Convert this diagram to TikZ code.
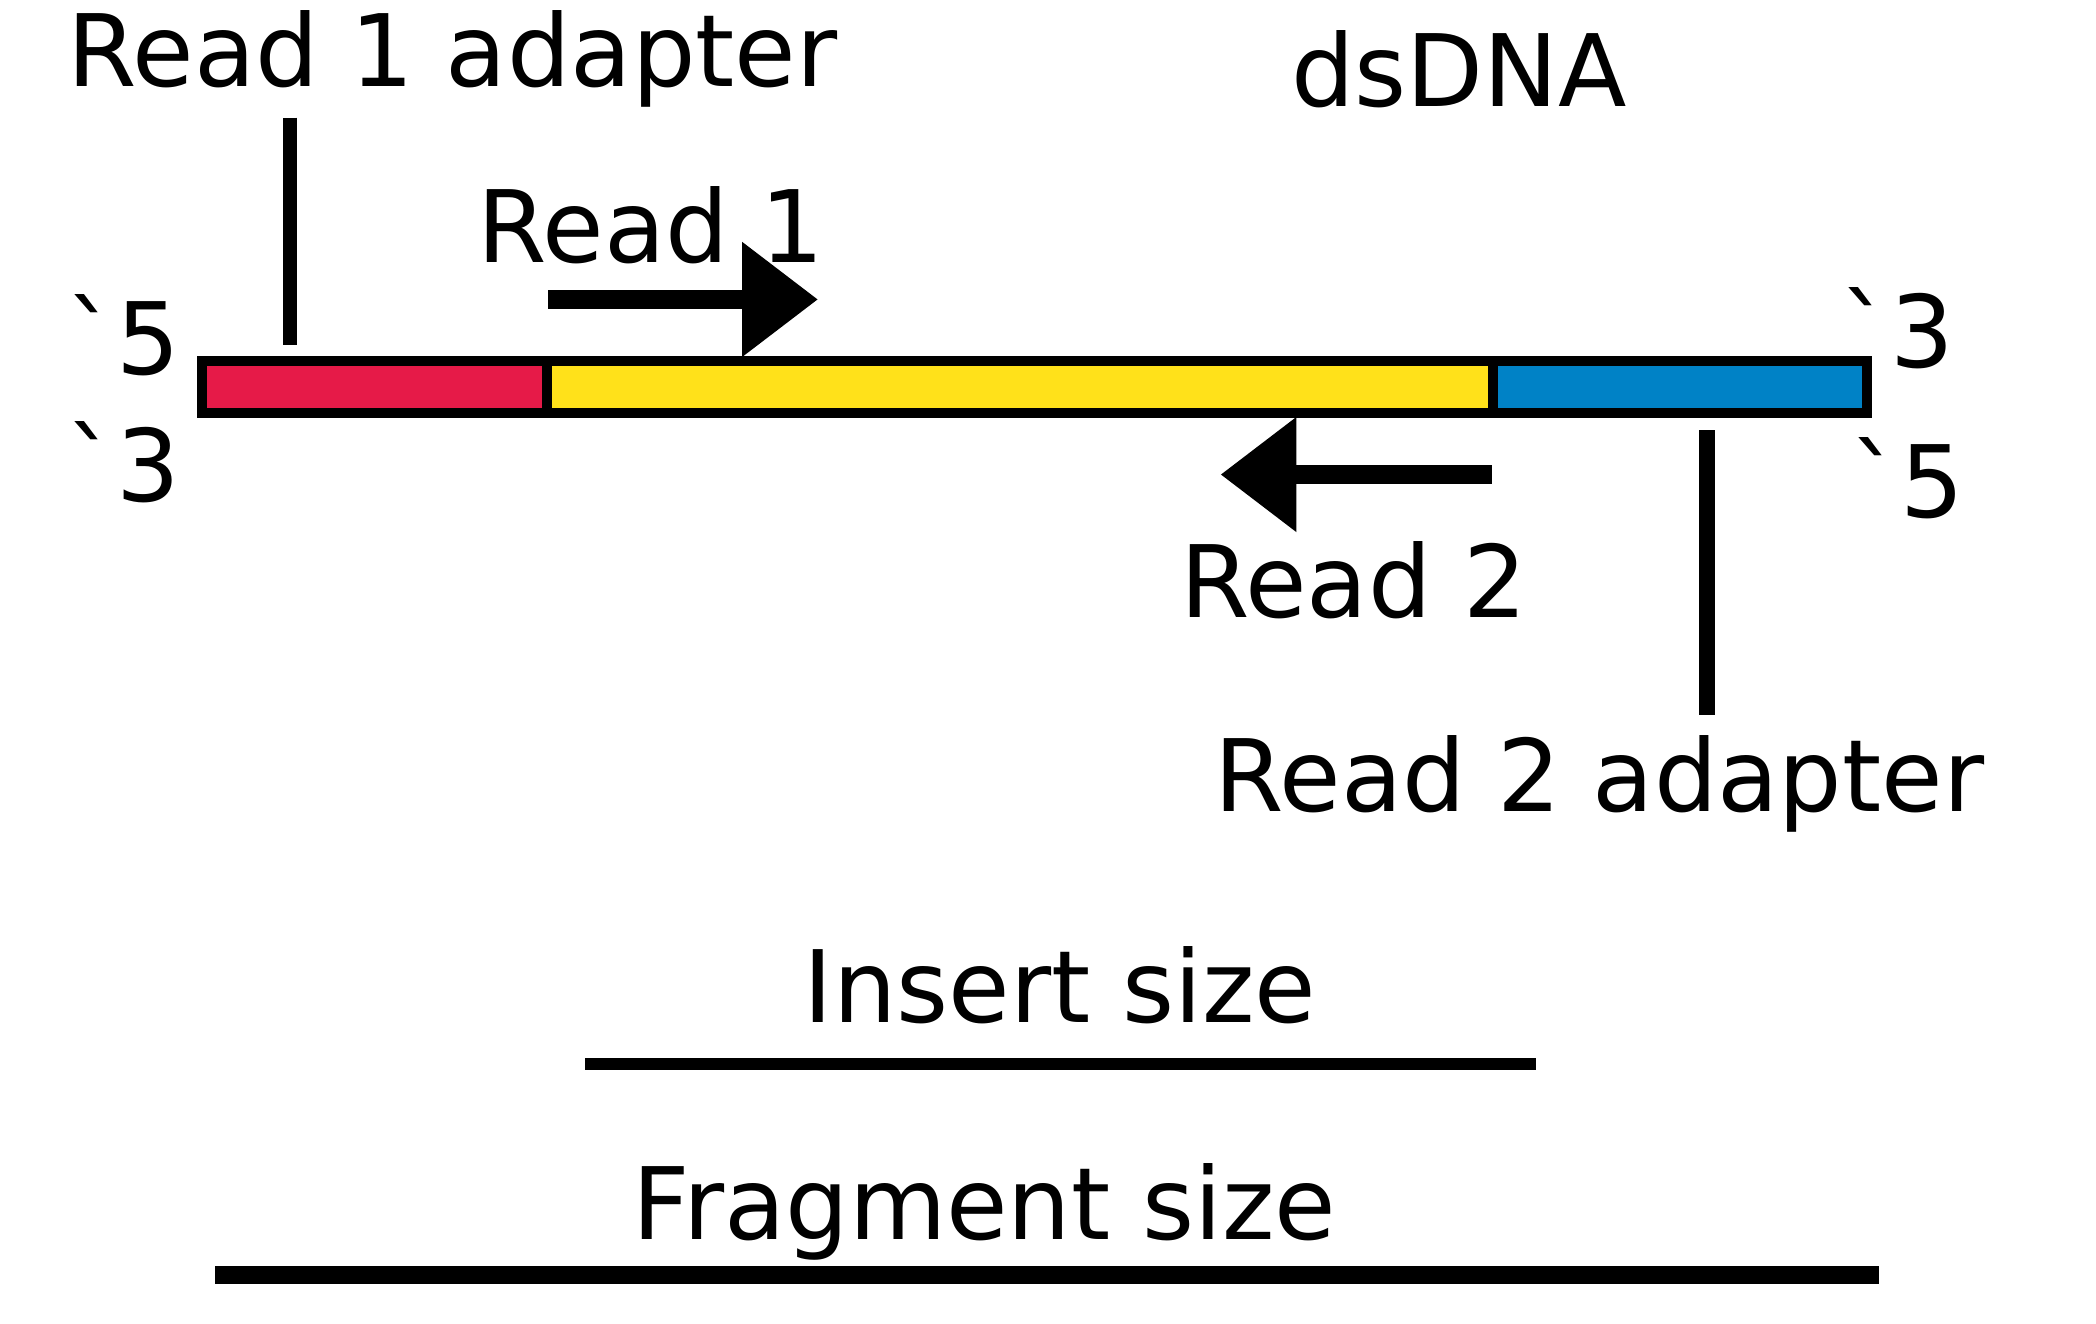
\documentclass[tikz,border=0pt]{standalone}
\usepackage{fontspec}
\setmainfont{DejaVu Sans}
\usetikzlibrary{arrows.meta}
\definecolor{adred}{RGB}{230,26,72}
\definecolor{insyellow}{RGB}{255,225,26}
\definecolor{adblue}{RGB}{0,130,198}
\begin{document}
\begin{tikzpicture}[x=0.6684pt, y=-0.6684pt,
  lbl/.style={anchor=base, inner sep=0pt, font=\fontsize{50}{60}\selectfont},
  seg/.style={draw, line width=5pt, rectangle, inner sep=0pt, outer sep=0pt, minimum height=26.3pt},
  readarrow/.style={line width=9.4pt, -{Triangle[length=38pt, width=55pt]}}]
\useasboundingbox (0,0) rectangle (1568,990);
% the three parts of the dsDNA
\node[seg, fill=adred, minimum width=172.6pt] (ad1) at (280,289.5) {};
\node[seg, fill=insyellow, minimum width=473.1pt] (ins) at (763,289.5) {};
\node[seg, fill=adblue, minimum width=187.2pt] (ad2) at (1257,289.5) {};
% labels
\node[lbl] (ad1lbl) at (338.5,65) {Read 1 adapter};
\node[lbl] (dna) at (1091.5,80) {dsDNA};
\node[lbl] (r1lbl) at (487,196) {Read 1};
\node[lbl] (r2lbl) at (1012.5,462) {Read 2};
\node[lbl] (ad2lbl) at (1196.5,607) {Read 2 adapter};
\node[lbl] (lfive) at (92.5,280) {\textasciigrave 5};
\node[lbl] (lthree) at (92.5,375) {\textasciigrave 3};
\node[lbl] (rthree) at (1419,275) {\textasciigrave 3};
\node[lbl] (rfive) at (1426.5,387) {\textasciigrave 5};
\node[lbl] (inslbl) at (793,765) {Insert size};
\node[lbl] (fraglbl) at (736.5,927) {Fragment size};
% leaders, reads and sizes
\coordinate (ad1a) at (217,88);
\coordinate (ad1b) at (217,258);
\coordinate (ad2a) at (1277,322);
\coordinate (ad2b) at (1277,535);
\coordinate (r1a) at (410,224);
\coordinate (r1b) at (612,224);
\coordinate (r2a) at (1116,355);
\coordinate (r2b) at (913,355);
\coordinate (insa) at (438,796);
\coordinate (insb) at (1149,796);
\coordinate (fraga) at (161,954);
\coordinate (fragb) at (1406,954);
\draw[line width=6.9pt] (ad1a) -- (ad1b);
\draw[line width=8pt] (ad2a) -- (ad2b);
\draw[readarrow] (r1a) -- (r1b);
\draw[readarrow] (r2a) -- (r2b);
\draw[line width=5.8pt] (insa) -- (insb);
\draw[line width=9pt] (fraga) -- (fragb);
\end{tikzpicture}
\end{document}
